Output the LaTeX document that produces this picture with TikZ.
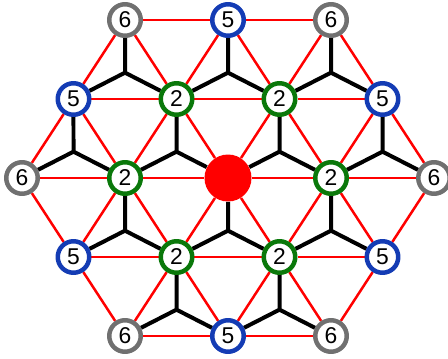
\documentclass[tikz,border=0pt]{standalone}
\usepackage{fontspec}
\setmainfont{Liberation Sans}
\usetikzlibrary{calc,backgrounds}
\definecolor{ringgray}{RGB}{112,112,112}
\definecolor{ringblue}{RGB}{20,60,180}
\definecolor{ringgreen}{RGB}{10,120,10}
\begin{document}
\begin{tikzpicture}[x=0.02cm, y=0.02cm, line join=round, line cap=round,
	site/.style={circle, draw, fill=white, line width=0.09cm, minimum size=0.63cm, inner sep=0pt,
		font=\fontsize{13}{13}\selectfont},
	sgray/.style={site, draw=ringgray},
	sblue/.style={site, draw=ringblue},
	sgreen/.style={site, draw=ringgreen},
	origin/.style={circle, fill=red, minimum size=0.94cm, inner sep=0pt},
	bond/.style={red, line width=0.05cm},
	dual/.style={black, line width=0.08cm}]
	\useasboundingbox (-228,-180) rectangle (220,178);
	% row 2
	\node[sgray] (a1) at (-103,158) {6};
	\node[sblue] (a2) at (0,158) {5};
	\node[sgray] (a3) at (103,158) {6};
	% row 1
	\node[sblue] (b1) at (-154.5,79) {5};
	\node[sgreen] (b2) at (-51.5,79) {2};
	\node[sgreen] (b3) at (51.5,79) {2};
	\node[sblue] (b4) at (154.5,79) {5};
	% row 0
	\node[sgray] (c1) at (-206,0) {6};
	\node[sgreen] (c2) at (-103,0) {2};
	\node[origin] (c3) at (0,0) {};
	\node[sgreen] (c4) at (103,0) {2};
	\node[sgray] (c5) at (206,0) {6};
	% row -1
	\node[sblue] (d1) at (-154.5,-79) {5};
	\node[sgreen] (d2) at (-51.5,-79) {2};
	\node[sgreen] (d3) at (51.5,-79) {2};
	\node[sblue] (d4) at (154.5,-79) {5};
	% row -2
	\node[sgray] (e1) at (-103,-158) {6};
	\node[sblue] (e2) at (0,-158) {5};
	\node[sgray] (e3) at (103,-158) {6};
	\begin{scope}[on background layer]
		% lattice bonds
		\foreach \p/\q in {a1/a2,a2/a3,b1/b2,b2/b3,b3/b4,c1/c2,c2/c3,c3/c4,c4/c5,
			d1/d2,d2/d3,d3/d4,e1/e2,e2/e3,
			a1/b1,a1/b2,a2/b2,a2/b3,a3/b3,a3/b4,
			b1/c1,b1/c2,b2/c2,b2/c3,b3/c3,b3/c4,b4/c4,b4/c5,
			d1/c1,d1/c2,d2/c2,d2/c3,d3/c3,d3/c4,d4/c4,d4/c5,
			e1/d1,e1/d2,e2/d2,e2/d3,e3/d3,e3/d4}
			\draw[bond] (\p) -- (\q);
		% dual bonds in the upward triangles
		\foreach \u/\v/\w in {a1/b1/b2,a2/b2/b3,a3/b3/b4,
			b1/c1/c2,b2/c2/c3,b3/c3/c4,b4/c4/c5,
			c2/d1/d2,c3/d2/d3,c4/d3/d4,
			d2/e1/e2,d3/e2/e3}
			\draw[dual] (\u) -- ($1/3*(\u)+1/3*(\v)+1/3*(\w)$) coordinate (y) -- (\v)
				(y) -- (\w);
	\end{scope}
\end{tikzpicture}
\end{document}
